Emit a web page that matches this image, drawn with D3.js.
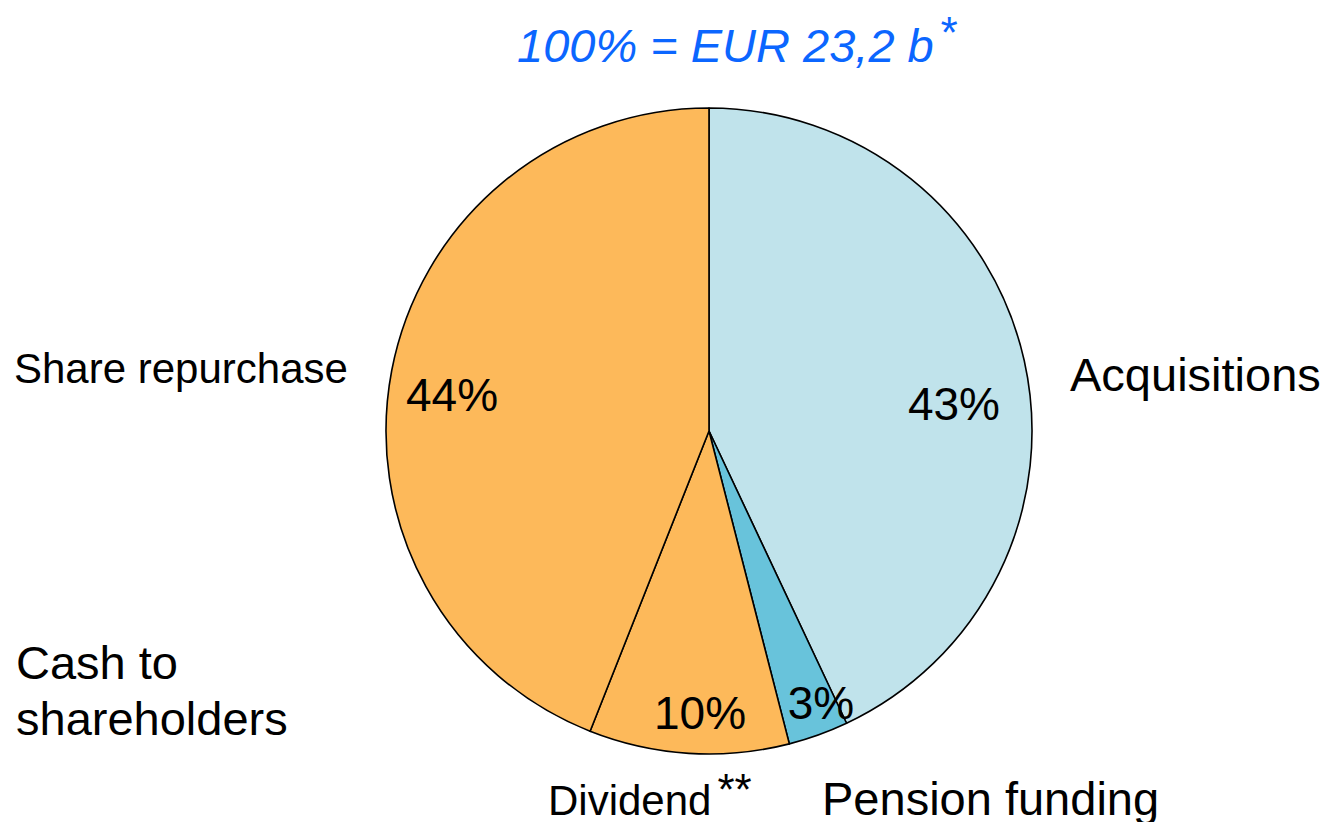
<!DOCTYPE html>
<html>
<head>
<meta charset="utf-8">
<script src="https://cdn.jsdelivr.net/npm/d3@7/dist/d3.min.js"></script>
<style>
  html, body { margin: 0; padding: 0; background: #fff; }
  svg { display: block; font-family: "Liberation Sans", Arial, sans-serif; }
</style>
</head>
<body>
<svg id="chart" width="1332" height="822"></svg>
<script>
// Use of cash, share of total (clockwise from 12 o'clock)
const categories = ["Acquisitions", "Pension funding", "Dividend", "Share repurchase"];
const shares = [43, 3, 10, 44];
const sliceColors = ["#c0e3eb", "#68c3db", "#fdb95a", "#fdb95a"];
const totalLabel = "100% = EUR 23,2 b";

const svg = d3.select("#chart");
const cx = 709, cy = 431, R = 323;

const pie = d3.pie().sort(null).value(d => d.value);
const arc = d3.arc().innerRadius(0).outerRadius(R);
const data = categories.map((c, i) => ({ name: c, value: shares[i], color: sliceColors[i] }));
const arcs = pie(data);

const g = svg.append("g").attr("transform", `translate(${cx},${cy})`);
g.selectAll("path.slice")
  .data(arcs)
  .enter().append("path")
  .attr("class", "slice")
  .attr("d", arc)
  .attr("fill", d => d.data.color)
  .attr("stroke", "#000")
  .attr("stroke-width", 1.6)
  .attr("stroke-linejoin", "round");

// Percentage labels inside the slices (offsets relative to pie centre)
const pctPos = [[245, -11], [112, 288], [-9, 298], [-257, -20]];
g.selectAll("text.pct")
  .data(arcs)
  .enter().append("text")
  .attr("class", "pct")
  .attr("x", (d, i) => pctPos[i][0])
  .attr("y", (d, i) => pctPos[i][1])
  .attr("text-anchor", "middle")
  .attr("font-size", 46)
  .attr("fill", "#000")
  .text(d => d.data.value + "%");

// Headline
const title = svg.append("text")
  .attr("x", 517).attr("y", 62)
  .attr("font-size", 47)
  .attr("font-style", "italic")
  .attr("fill", "#0b66ff");
title.append("tspan").text(totalLabel);
title.append("tspan").attr("dx", 5).attr("dy", -14).attr("font-size", 44).text("*");

// Category labels
svg.append("text").attr("x", 1070).attr("y", 391).attr("font-size", 47).text("Acquisitions");
svg.append("text").attr("x", 14).attr("y", 383).attr("font-size", 42).text("Share repurchase");

const cash = svg.append("text").attr("font-size", 47);
cash.append("tspan").attr("x", 16).attr("y", 679).text("Cash to");
cash.append("tspan").attr("x", 16).attr("y", 735).text("shareholders");

const div = svg.append("text").attr("x", 548).attr("y", 815).attr("font-size", 42);
div.append("tspan").text("Dividend");
div.append("tspan").attr("dx", 6).attr("dy", -10).attr("font-size", 44).text("**");

svg.append("text").attr("x", 822).attr("y", 815).attr("font-size", 47).text("Pension funding");
</script>
</body>
</html>
